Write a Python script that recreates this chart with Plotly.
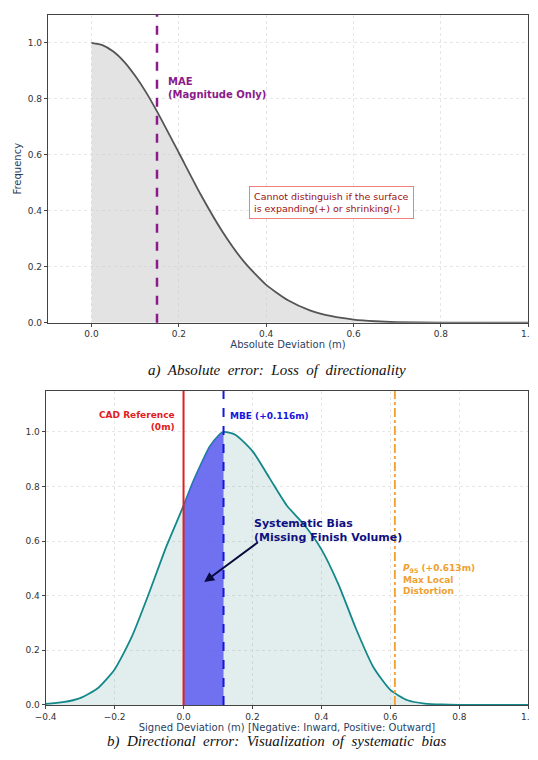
import plotly.graph_objects as go

abs_x = [0.0, 0.025, 0.05, 0.075, 0.1, 0.125, 0.15, 0.2, 0.25, 0.3, 0.35, 0.4, 0.45, 0.5, 0.55, 0.6, 0.65, 0.7, 0.8, 0.9, 1.0]
abs_y = [1.0, 0.992, 0.969, 0.932, 0.882, 0.823, 0.755, 0.607, 0.458, 0.325, 0.216, 0.135, 0.08, 0.044, 0.023, 0.011, 0.005, 0.002, 0.0003, 0.0, 0.0]
sig_x = [-0.4, -0.35, -0.3, -0.25, -0.2, -0.15, -0.1, -0.05, 0.0, 0.025, 0.05, 0.075, 0.1, 0.116, 0.15, 0.2, 0.25, 0.3, 0.35, 0.4, 0.45, 0.5, 0.55, 0.6, 0.65, 0.7, 0.75, 0.8, 0.9, 1.0]
sig_y = [0.004, 0.01, 0.025, 0.06, 0.13, 0.25, 0.41, 0.58, 0.73, 0.81, 0.88, 0.945, 0.985, 1.0, 0.99, 0.93, 0.83, 0.73, 0.66, 0.57, 0.44, 0.28, 0.14, 0.055, 0.017, 0.005, 0.0015, 0.0004, 0.0, 0.0]
mae = 0.15
mbe = 0.116
p95 = 0.613

fig = go.Figure()
fig.add_trace(go.Scatter(x=abs_x, y=abs_y, mode="lines", line=dict(color="#555555", width=1.8, shape="spline", smoothing=0.6),
                         fill="tozeroy", fillcolor="rgba(200,200,200,0.5)", xaxis="x", yaxis="y"))
fig.add_trace(go.Scatter(x=sig_x, y=sig_y, mode="lines", line=dict(color="#13888a", width=1.8, shape="spline", smoothing=0.6),
                         fill="tozeroy", fillcolor="rgba(95,158,160,0.18)", xaxis="x2", yaxis="y2"))
bx = [v for v in sig_x if 0 <= v <= mbe]
by = [sig_y[sig_x.index(v)] for v in bx]
fig.add_trace(go.Scatter(x=bx, y=by, mode="lines", line=dict(color="rgba(0,0,0,0)", width=0),
                         fill="tozeroy", fillcolor="rgba(90,90,240,0.85)", xaxis="x2", yaxis="y2"))

grid = dict(showgrid=True, gridcolor="#e6e6e6", griddash="dot", zeroline=False, showline=True, mirror=True,
            linecolor="#444", ticks="outside", ticklen=3, tickfont=dict(size=9, color="#333"), automargin=False)
fig.update_layout(
    width=538, height=760, showlegend=False, plot_bgcolor="white", paper_bgcolor="white",
    margin=dict(l=0, r=0, t=0, b=0), font=dict(family="DejaVu Sans"),
    xaxis=dict(domain=[0.074, 0.967], range=[-0.1, 1.0], dtick=0.2, tickformat=".1f", anchor="y",
               title=dict(text="Absolute Deviation (m)", font=dict(size=10), standoff=2), **grid),
    yaxis=dict(domain=[0.586, 0.991], range=[0, 1.1], dtick=0.2, tickformat=".1f", anchor="x",
               title=dict(text="Frequency", font=dict(size=10), standoff=4), **grid),
    xaxis2=dict(domain=[0.07, 0.967], range=[-0.4, 1.0], dtick=0.2, tickformat=".1f", anchor="y2",
                title=dict(text="Signed Deviation (m) [Negative: Inward, Positive: Outward]", font=dict(size=10), standoff=2), **grid),
    yaxis2=dict(domain=[0.083, 0.496], range=[0, 1.15], dtick=0.2, tickformat=".1f", anchor="x2", **grid),
)
fig.add_shape(type="line", x0=mae, x1=mae, y0=0, y1=1, yref="y domain", xref="x",
              line=dict(color="#8b1a8b", width=2.5, dash="dash"))
fig.add_shape(type="line", x0=0, x1=0, y0=0, y1=1, yref="y2 domain", xref="x2", line=dict(color="#e02020", width=2))
fig.add_shape(type="line", x0=mbe, x1=mbe, y0=0, y1=1, yref="y2 domain", xref="x2",
              line=dict(color="#1515e0", width=2, dash="dash"))
fig.add_shape(type="line", x0=p95, x1=p95, y0=0, y1=1, yref="y2 domain", xref="x2",
              line=dict(color="#f0a030", width=1.8, dash="dashdot"))

fig.add_annotation(x=0.17, y=0.84, xref="x", yref="y", text="<b>MAE<br>(Magnitude Only)</b>", showarrow=False,
                   xanchor="left", align="left", font=dict(size=10, color="#8b1a8b"))
fig.add_annotation(x=0.55, y=0.43, xref="x", yref="y",
                   text="Cannot distinguish if the surface<br>is expanding(+) or shrinking(-)", showarrow=False,
                   align="left", font=dict(size=9.5, color="#a01010"), bordercolor="#f08080", borderwidth=1,
                   borderpad=4, bgcolor="white")
fig.add_annotation(x=-0.02, y=1.04, xref="x2", yref="y2", text="<b>CAD Reference<br>(0m)</b>", showarrow=False,
                   xanchor="right", align="right", font=dict(size=9, color="#e02020"))
fig.add_annotation(x=0.13, y=1.06, xref="x2", yref="y2", text="<b>MBE (+0.116m)</b>", showarrow=False,
                   xanchor="left", font=dict(size=9, color="#1515e0"))
fig.add_annotation(x=0.06, y=0.45, ax=0.22, ay=0.6, xref="x2", yref="y2", axref="x2", ayref="y2",
                   text="", showarrow=True, arrowhead=2, arrowsize=1, arrowwidth=2, arrowcolor="#0a0a40")
fig.add_annotation(x=0.2, y=0.64, xref="x2", yref="y2", text="<b>Systematic Bias<br>(Missing Finish Volume)</b>",
                   showarrow=False, xanchor="left", align="left", font=dict(size=11, color="#101080"))
fig.add_annotation(x=0.63, y=0.46, xref="x2", yref="y2",
                   text="<b><i>P</i><sub>95</sub> (+0.613m)<br>Max Local<br>Distortion</b>", showarrow=False,
                   xanchor="left", align="left", font=dict(size=9, color="#f0a030"))

fig.add_annotation(x=0.5, y=1 - 362 / 760, xref="paper", yref="paper", showarrow=False,
                   text="<i>a)  Absolute  error:  Loss  of  directionality</i>",
                   font=dict(family="Liberation Serif", size=15, color="#111"))
fig.add_annotation(x=0.5, y=1 - 744 / 760, xref="paper", yref="paper", showarrow=False,
                   text="<i>b)  Directional  error:  Visualization  of  systematic  bias</i>",
                   font=dict(family="Liberation Serif", size=15, color="#111"))
fig.write_html("out.html")
